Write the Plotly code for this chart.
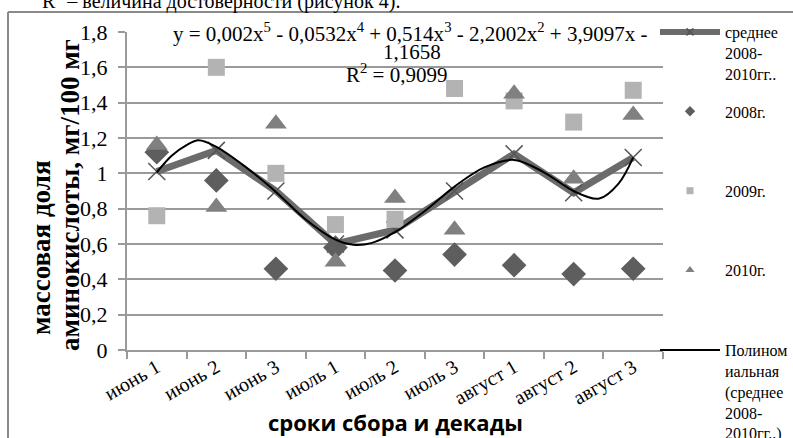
import plotly.graph_objects as go

categories = ["июнь 1", "июнь 2", "июнь 3", "июль 1", "июль 2", "июль 3",
              "август 1", "август 2", "август 3"]
avg_2008_2010 = [1.01, 1.13, 0.90, 0.60, 0.68, 0.90, 1.11, 0.89, 1.09]
y2008 = [1.12, 0.96, 0.46, 0.58, 0.45, 0.54, 0.48, 0.43, 0.46]
y2009 = [0.76, 1.60, 1.00, 0.71, 0.74, 1.48, 1.41, 1.29, 1.47]
y2010 = [1.16, 0.81, 1.28, 0.50, 0.86, 0.68, 1.45, 0.97, 1.33]
# polynomial trendline (5th degree, "среднее 2008-2010гг.");
# positions are in category units (1 = "июнь 1" ... 9 = "август 3")
trend_x = [1, 1.25, 1.5, 1.7, 2, 2.5, 3, 3.5, 4, 4.3, 4.6, 5, 5.5, 6, 6.5, 7,
           7.5, 8, 8.43, 8.75, 9]
trend_y = [1.006, 1.10, 1.16, 1.187, 1.15, 1.034, 0.895, 0.739, 0.625, 0.596, 0.605,
           0.667, 0.787, 0.925, 1.034, 1.076, 1.006, 0.90, 0.857, 0.94, 1.09]
y_tickvals = [0, 0.2, 0.4, 0.6, 0.8, 1.0, 1.2, 1.4, 1.6, 1.8]
y_ticktext = ["0", "0,2", "0,4", "0,6", "0,8", "1", "1,2", "1,4", "1,6", "1,8"]
eq_line1 = ("y = 0,002x<sup>5</sup> - 0,0532x<sup>4</sup> + 0,514x<sup>3</sup> - "
            "2,2002x<sup>2</sup> + 3,9097x -")
eq_line2 = "1,1658"
eq_line3 = "R<sup>2</sup> = 0,9099"

x = list(range(len(categories)))
trend_pos = [t - 1 for t in trend_x]

SERIF = "Liberation Serif, Times New Roman, serif"
GRID = "#9a9a9a"
C_AVG = "#6b6b6b"
C08 = "#5e5e5e"
C09 = "#b3b3b3"
C10 = "#808080"

L, T, W, H = 127, 32, 536, 318


def px(xp):
    return (xp - L) / W


def py(yp):
    return (T + H - yp) / H


fig = go.Figure()

fig.add_trace(go.Scatter(x=x, y=avg_2008_2010, mode="lines+markers", showlegend=False,
                         line=dict(color=C_AVG, width=7),
                         marker=dict(symbol="x-thin", size=17, color="#555555",
                                     line=dict(color="#555555", width=1.5))))
fig.add_trace(go.Scatter(x=x, y=y2008, mode="markers", showlegend=False,
                         marker=dict(symbol="diamond", size=19, color=C08)))
fig.add_trace(go.Scatter(x=x, y=y2009, mode="markers", showlegend=False,
                         marker=dict(symbol="square", size=17, color=C09)))
fig.add_trace(go.Scatter(x=x, y=y2010, mode="markers", showlegend=False,
                         marker=dict(symbol="triangle-up", size=19, color=C10)))
fig.add_trace(go.Scatter(x=trend_pos, y=trend_y, mode="lines", showlegend=False,
                         line=dict(color="black", width=2, shape="spline", smoothing=1.0)))

# legend-only entries
fig.add_trace(go.Scatter(x=[None], y=[None], mode="lines+markers", legendgroup="a",
                         name="среднее<br>2008-<br>2010гг..",
                         line=dict(color=C_AVG, width=6),
                         marker=dict(symbol="x-thin", size=7, color="#555555",
                                     line=dict(color="#555555", width=1.5))))
fig.add_trace(go.Scatter(x=[None], y=[None], mode="markers", legendgroup="b",
                         name="2008г.<br>&nbsp;<br>&nbsp;",
                         marker=dict(symbol="diamond", size=8, color=C08)))
fig.add_trace(go.Scatter(x=[None], y=[None], mode="markers", legendgroup="c",
                         name="2009г.<br>&nbsp;<br>&nbsp;",
                         marker=dict(symbol="square", size=7, color=C09)))
fig.add_trace(go.Scatter(x=[None], y=[None], mode="markers", legendgroup="d",
                         name="2010г.",
                         marker=dict(symbol="triangle-up", size=8, color=C10)))
fig.add_trace(go.Scatter(x=[None], y=[None], mode="lines", legend="legend2",
                         name="Полином<br>иальная<br>(среднее<br>2008-<br>2010гг..)",
                         line=dict(color="black", width=2)))

legend_common = dict(font=dict(family=SERIF, size=16, color="black"),
                     valign="top", bgcolor="rgba(0,0,0,0)", itemwidth=60,
                     maxheight=430)

fig.update_layout(
    width=793, height=438,
    margin=dict(l=L, r=793 - L - W, t=T, b=438 - T - H, autoexpand=False),
    paper_bgcolor="white", plot_bgcolor="white",
    font=dict(family=SERIF, color="black"),
    hovermode=False,
    legend=dict(x=px(655), xanchor="left", y=py(15), yanchor="top",
                tracegroupgap=14, **legend_common),
    legend2=dict(x=px(655), xanchor="left", y=py(333), yanchor="top", **legend_common),
    xaxis=dict(range=[-0.5, len(categories) - 0.5], tickmode="array", tickvals=x,
               ticktext=categories, tickangle=-30, ticks="", automargin=False,
               ticklabelstandoff=-4,
               tickfont=dict(family=SERIF, size=20, color="black"),
               showgrid=False, zeroline=False, showline=True, linecolor=GRID, linewidth=2,
               minor=dict(tickmode="array",
                          tickvals=[i - 0.5 for i in range(len(categories) + 1)],
                          ticks="outside", ticklen=7, tickwidth=2, tickcolor=GRID,
                          showgrid=False)),
    yaxis=dict(range=[0, 1.8], tickmode="array", tickvals=y_tickvals, ticktext=y_ticktext,
               ticks="outside", ticklen=7, tickwidth=2, tickcolor=GRID, automargin=False,
               ticklabelstandoff=6,
               tickfont=dict(family=SERIF, size=22, color="black"),
               showgrid=True, gridcolor=GRID, gridwidth=2, zeroline=False,
               showline=True, linecolor=GRID, linewidth=2),
    annotations=[
        dict(text=eq_line1, xref="paper", yref="paper", x=px(410), y=py(32),
             xanchor="center", yanchor="middle", showarrow=False,
             font=dict(family=SERIF, size=21, color="black")),
        dict(text=eq_line2, xref="paper", yref="paper", x=px(412), y=py(52),
             xanchor="center", yanchor="middle", showarrow=False,
             font=dict(family=SERIF, size=21, color="black")),
        dict(text=eq_line3, xref="paper", yref="paper", x=px(396), y=py(73),
             xanchor="center", yanchor="middle", showarrow=False,
             font=dict(family=SERIF, size=21, color="black")),
        dict(text="массовая доля", xref="paper", yref="paper",
             x=px(41), y=py(248), xanchor="center", yanchor="middle",
             textangle=-90, showarrow=False,
             font=dict(family=SERIF, size=27, color="black", weight="bold")),
        dict(text="аминокислоты, мг/100 мг", xref="paper", yref="paper",
             x=px(70), y=py(195), xanchor="center", yanchor="middle",
             textangle=-90, showarrow=False,
             font=dict(family=SERIF, size=27, color="black", weight="bold")),
        dict(text="сроки сбора и декады", xref="paper", yref="paper",
             x=px(395), y=py(422), xanchor="center", yanchor="middle",
             showarrow=False,
             font=dict(family="Open Sans, sans-serif", size=22, color="black", weight="bold")),
        dict(text="R<sup>2</sup> – величина достоверности (рисунок 4).", xref="paper",
             yref="paper", x=px(40), y=py(15), xanchor="left",
             yanchor="bottom", showarrow=False,
             font=dict(family=SERIF, size=20, color="black")),
    ],
    shapes=[
        dict(type="line", xref="paper", yref="paper",
             x0=px(8), x1=px(800), y0=py(12), y1=py(12),
             line=dict(color="#8a8a8a", width=2)),
        dict(type="line", xref="paper", yref="paper",
             x0=px(8), x1=px(8), y0=py(12), y1=py(445),
             line=dict(color="#8a8a8a", width=2)),
    ],
)

fig.write_html("out.html",
               config={"displayModeBar": False},
               post_script="document.body.style.margin='0';"
                           "document.body.style.overflow='hidden';")
